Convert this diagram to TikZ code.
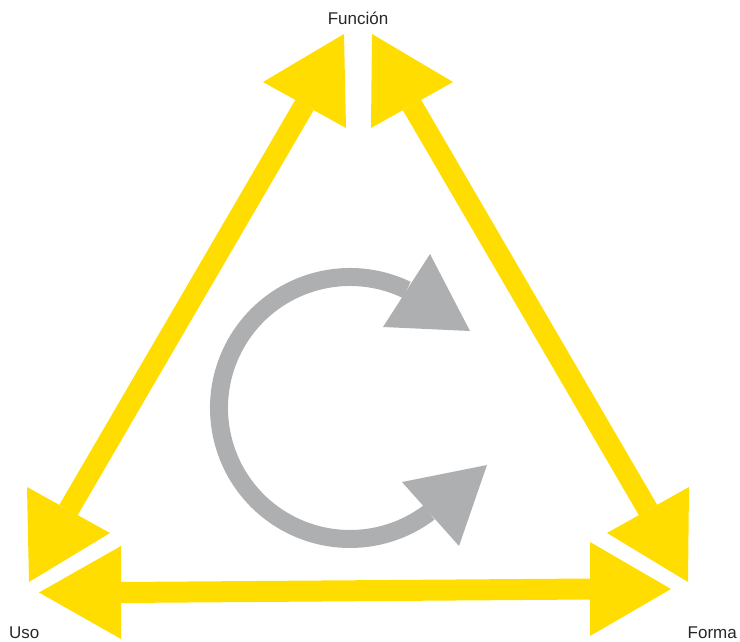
\documentclass[tikz,border=0pt]{standalone}
\usepackage{fontspec}
\setmainfont{Liberation Sans}
\usetikzlibrary{calc}
\definecolor{ayellow}{RGB}{255,221,0}
\definecolor{agrey}{RGB}{174,175,177}
\definecolor{atext}{RGB}{40,38,40}
\begin{document}
\begin{tikzpicture}[x=1pt,y=-1pt,
  shaft/.style={draw=ayellow,line width=21pt},
  yhead/.style={fill=ayellow},
  ghead/.style={fill=agrey},
  ring/.style={draw=agrey,line width=18pt},
  lbl/.style={inner sep=0pt,text=atext,font=\fontsize{17}{20}\selectfont}]
\useasboundingbox (0,0) rectangle (740,642);
% labels
\node[lbl,anchor=base] (fun) at (358,25) {Función};
\node[lbl,anchor=base west] (uso) at (9,638.5) {Uso};
\node[lbl,anchor=base east] (forma) at (737,638.5) {Forma};
% left edge (Uso <-> Función)
\coordinate (lLo) at (68.5,510);
\coordinate (lHi) at (304.5,105);
\draw[shaft] (lLo) -- (lHi);
\fill[yhead] (27,487) -- (110,533) -- (29,582) -- cycle;
\fill[yhead] (263,82) -- (344,34) -- (346,128) -- cycle;
% right edge (Función <-> Forma)
\coordinate (rHi) at (412,105);
\coordinate (rLo) at (648,510);
\draw[shaft] (rHi) -- (rLo);
\fill[yhead] (372,34) -- (453,82) -- (371,128) -- cycle;
\fill[yhead] (689,487) -- (607,533) -- (688,582) -- cycle;
% bottom edge (Uso <-> Forma)
\coordinate (bL) at (121,592.5);
\coordinate (bR) at (590,589);
\draw[shaft] (bL) -- (bR);
\fill[yhead] (121,546) -- (39,592.5) -- (121,639) -- cycle;
\fill[yhead] (590,542) -- (671,589) -- (590,636) -- cycle;
% grey cycle arrow
\coordinate (gc) at (350,408);
\draw[ring] (gc) ++(-64.3:131) arc[start angle=-64.3,end angle=-307.2,radius=131];
\fill[ghead] (430,254) -- (470,331) -- (383,327) -- cycle;
\fill[ghead] (402,482) -- (487,465) -- (459,546) -- cycle;
\end{tikzpicture}
\end{document}
